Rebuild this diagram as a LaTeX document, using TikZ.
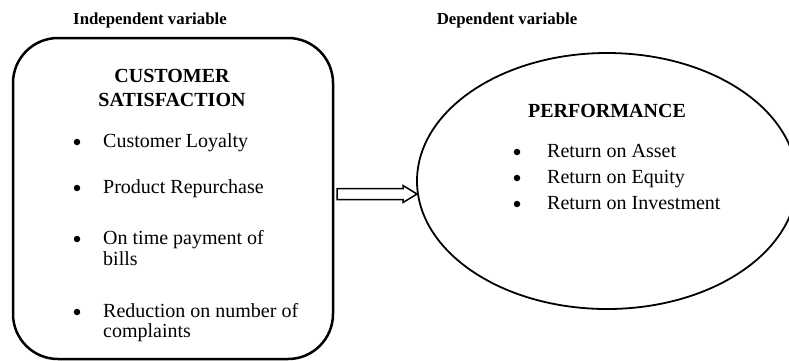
\documentclass[tikz,border=0pt]{standalone}
\usepackage{fontspec}
\setmainfont{Liberation Serif}
\usetikzlibrary{shapes.geometric,positioning,calc}

\begin{document}
\begin{tikzpicture}[x=1pt,y=-1pt,
  heading/.style={font=\fontsize{16.8}{20}\selectfont\bfseries, inner sep=0pt, anchor=base},
  title/.style={font=\fontsize{20}{24}\selectfont\bfseries, align=center, inner sep=0pt, anchor=base},
  item/.style={font=\fontsize{20}{21}\selectfont, align=left, anchor=base west, inner sep=0pt},
  dot/.style={circle, fill=black, minimum size=6.5pt, inner sep=0pt}]
  \useasboundingbox (0,0) rectangle (789,360);

  % Variable headings
  \node[heading] (indep) at (150,24) {Independent variable};
  \node[heading] (dep)   at (507,24) {Dependent variable};

  % Customer satisfaction box
  \node[draw, line width=2.5pt, rounded corners=45pt, minimum width=320pt, minimum height=321pt,
        inner sep=0pt, outer sep=0pt, anchor=north west] (cs) at (13,38) {};
  \node[title] (cstitle) at (172,106) {CUSTOMER\\SATISFACTION};

  \node[dot]  (b1) at (77,142) {};
  \node[item] (t1) at (103,147) {Customer Loyalty};
  \node[dot]  (b2) at (77,188) {};
  \node[item] (t2) at (103,193) {Product Repurchase};
  \node[dot]  (b3) at (77,239) {};
  \node[item] (t3) at (103,265) {On time payment of\\bills};
  \node[dot]  (b4) at (77,312) {};
  \node[item, font=\fontsize{20}{20}\selectfont] (t4) at (103,337) {Reduction on number of\\complaints};

  % Performance ellipse
  \node[draw, ellipse, line width=1.8pt, minimum width=380pt, minimum height=256pt,
        inner sep=0pt, outer sep=0pt] (perf) at (607,181) {};
  \node[title] (perftitle) at (607,117) {PERFORMANCE};

  \node[dot]  (r1) at (517,152) {};
  \node[item] (s1) at (547,157) {Return on Asset};
  \node[dot]  (r2) at (517,178) {};
  \node[item] (s2) at (547,183) {Return on Equity};
  \node[dot]  (r3) at (517,204) {};
  \node[item] (s3) at (547,209) {Return on Investment};

  % Link the two variables
  \coordinate (tail) at ($(cs.east |- 0,194) + (4,0)$);
  \coordinate (tip)  at (perf.west |- tail);
  \draw [line width=1.5pt, fill=white] ($(tail)+(0,-5.5)$) -- ($(tip)+(-14,-5.5)$) -- ($(tip)+(-14,-8.5)$)
        -- (tip) -- ($(tip)+(-14,8.5)$) -- ($(tip)+(-14,5.5)$) -- ($(tail)+(0,5.5)$) -- cycle;
\end{tikzpicture}
\end{document}
